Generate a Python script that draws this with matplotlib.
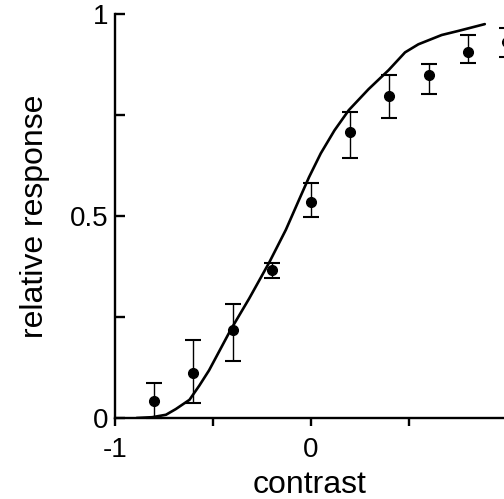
import matplotlib
matplotlib.use("Agg")
import matplotlib.pyplot as plt

plt.rcParams['font.family'] = ['Liberation Sans', 'DejaVu Sans']

# measured points with error bars
contrast = [-0.8, -0.6, -0.4, -0.2, 0.0, 0.2, 0.4, 0.6, 0.8, 1.0]
response = [0.042, 0.112, 0.218, 0.366, 0.535, 0.708, 0.797, 0.849, 0.905, 0.93]
err_lo = [0.042, 0.074, 0.077, 0.020, 0.037, 0.065, 0.054, 0.047, 0.026, 0.036]
err_hi = [0.045, 0.081, 0.064, 0.017, 0.046, 0.050, 0.052, 0.027, 0.043, 0.035]

# model curve
curve_x = [-0.89, -0.81, -0.74, -0.69, -0.62, -0.57, -0.52, -0.41, -0.315, -0.213,
           -0.128, -0.061, -0.01, 0.05, 0.12, 0.193, 0.294, 0.396, 0.48, 0.548,
           0.667, 0.751, 0.887]
curve_y = [0.0, 0.002, 0.008, 0.022, 0.045, 0.08, 0.118, 0.218, 0.296, 0.385,
           0.466, 0.540, 0.596, 0.655, 0.712, 0.762, 0.814, 0.861, 0.905, 0.925,
           0.948, 0.958, 0.975]

fig = plt.figure(figsize=(5.04, 4.99), dpi=100)
ax = fig.add_axes([115/504, 81/499, 389/504, 404/499])

ax.plot(curve_x, curve_y, color='black', lw=1.9, solid_capstyle='round',
        solid_joinstyle='round')
ax.errorbar(contrast, response, yerr=[err_lo, err_hi], fmt='o', color='black',
            ms=7, elinewidth=1.0, capsize=6, capthick=1.5, clip_on=False)

ax.set_xlim(-1, 0.985)
ax.set_ylim(0, 1)

ax.spines['top'].set_visible(False)
ax.spines['right'].set_visible(False)
ax.spines['left'].set_linewidth(1.7)
ax.spines['bottom'].set_linewidth(1.7)

ax.set_xticks([-1, -0.5, 0, 0.5])
ax.set_xticklabels(['-1', '', '0', ''])
ax.set_yticks([0, 0.25, 0.5, 0.75, 1])
ax.set_yticklabels(['0', '', '0.5', '', '1'])
ax.tick_params(axis='x', direction='out', length=6, width=1.7, labelsize=20, pad=8)
ax.tick_params(axis='y', direction='in', length=7, width=1.7, labelsize=20, pad=5)

ax.set_xlabel('contrast', fontsize=23, labelpad=5)
ax.set_ylabel('relative response', fontsize=23, labelpad=14)

fig.savefig('out.png', dpi=100)
